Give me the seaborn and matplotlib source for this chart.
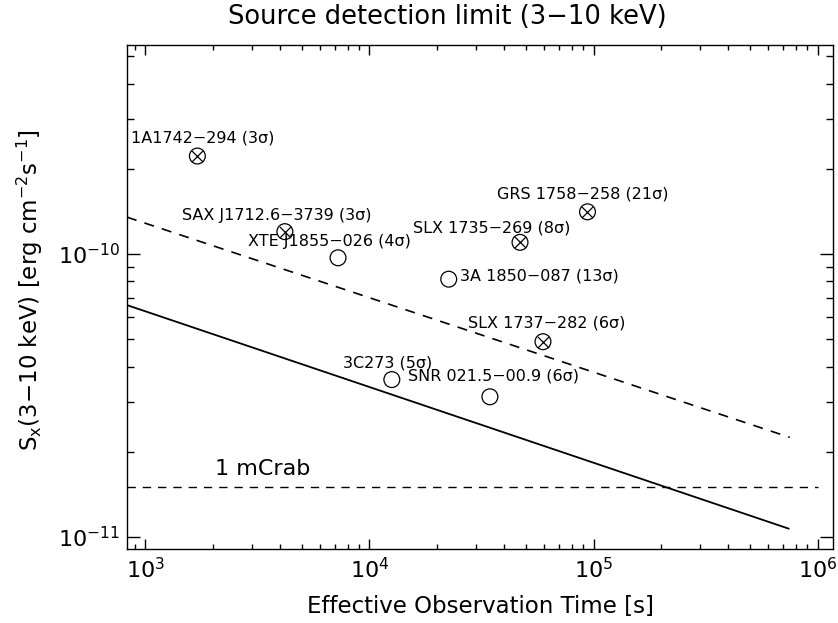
import numpy as np
import pandas as pd
import matplotlib
matplotlib.use("Agg")
import matplotlib.pyplot as plt
from matplotlib.ticker import NullFormatter
import seaborn as sns

# ---------------- data ----------------
src_names = ["1A1742\u2212294", "SAX J1712.6\u22123739", "XTE J1855\u2212026",
             "3A 1850\u2212087", "GRS 1758\u2212258", "SLX 1735\u2212269",
             "SLX 1737\u2212282", "3C273", "SNR 021.5\u221200.9"]
src_sigma = [3, 3, 4, 13, 21, 8, 6, 5, 6]
src_time = [1.71e3, 4.2e3, 7.25e3, 2.26e4, 9.4e4, 4.7e4, 5.95e4, 1.26e4, 3.45e4]
src_flux = [2.22e-10, 1.20e-10, 9.7e-11, 8.15e-11, 1.41e-10, 1.10e-10,
            4.9e-11, 3.6e-11, 3.13e-11]
src_kind = ["cross", "cross", "open", "open", "cross", "cross", "cross", "open", "open"]

dashed_time = [830, 7.5e5]
dashed_flux = [1.35e-10, 2.25e-11]
solid_time = [830, 7.43e5]
solid_flux = [6.6e-11, 1.07e-11]
mcrab_time = [830, 1.0e6]
mcrab_flux = [1.5e-11, 1.5e-11]

x_ticks = [1e3, 1e4, 1e5, 1e6]
y_ticks = [1e-11, 1e-10]

# label offsets in pixels (dx right, dy up) relative to the marker
label_dx = [-66, -103, -90, 11, -90, -107, -75, -49, -82]
label_dy = [18, 16, 16, 3, 18, 14, 19, 17, 21]

# ---------------- figure ----------------
sns.set_theme(style="ticks")
plt.rcParams["font.family"] = ["DejaVu Sans"]
plt.rcParams["mathtext.fontset"] = "dejavusans"
for k in ["text.color", "axes.labelcolor", "xtick.color", "ytick.color", "axes.edgecolor"]:
    plt.rcParams[k] = "black"

W, H = 838, 623
fig = plt.figure(figsize=(W / 100, H / 100), dpi=100)
ax = fig.add_axes([127 / W, 1 - 549 / H, (833 - 127) / W, (549 - 45) / H])

df_src = pd.DataFrame({"time": src_time, "flux": src_flux, "kind": src_kind,
                       "name": src_names, "sigma": src_sigma})

sns.lineplot(x=dashed_time, y=dashed_flux, ax=ax, color="black", lw=1.2,
             linestyle="--", sort=False, estimator=None)
ax.lines[-1].set_dashes((6, 5))
sns.lineplot(x=solid_time, y=solid_flux, ax=ax, color="black", lw=1.3,
             sort=False, estimator=None)
sns.lineplot(x=mcrab_time, y=mcrab_flux, ax=ax, color="black", lw=1.0,
             linestyle="--", sort=False, estimator=None)
ax.lines[-1].set_dashes((6, 5))

sns.scatterplot(data=df_src, x="time", y="flux", ax=ax, marker="o", s=130,
                facecolor="none", edgecolor="black", linewidth=0.9, zorder=3)
sns.scatterplot(data=df_src[df_src["kind"] == "cross"], x="time", y="flux", ax=ax,
                marker="x", s=64, color="black", linewidth=0.9, zorder=3)

for i, (n, sg, t, f) in enumerate(zip(src_names, src_sigma, src_time, src_flux)):
    ax.annotate(f"{n} ({sg}\u03c3)", xy=(t, f),
                xytext=(label_dx[i] * 0.72, label_dy[i] * 0.72),
                textcoords="offset points", ha="left", va="center",
                fontsize=11.5, color="black")

ax.annotate("1 mCrab", xy=(mcrab_time[0], mcrab_flux[0]),
            xytext=((215 - 127) * 0.72, 18 * 0.72), textcoords="offset points",
            ha="left", va="center", fontsize=16, color="black")

ax.set_xscale("log")
ax.set_yscale("log")
ax.set_xlim(830, 1.17e6)
ax.set_ylim(9.07e-12, 5.48e-10)
ax.set_xticks(x_ticks)
ax.set_yticks(y_ticks)
ax.xaxis.set_minor_formatter(NullFormatter())
ax.yaxis.set_minor_formatter(NullFormatter())
ax.set_xlabel("")
ax.set_ylabel("")

ax.tick_params(which="both", direction="in", top=True, right=True,
               color="black", width=1.0)
ax.tick_params(axis="x", which="major", length=7.2, labelsize=16, pad=6)
ax.tick_params(axis="x", which="minor", length=3.6)
ax.tick_params(axis="y", which="major", length=9.4, labelsize=16, pad=5)
ax.tick_params(axis="y", which="minor", length=5)
for sp in ax.spines.values():
    sp.set_visible(True)
    sp.set_color("black")
    sp.set_linewidth(1.0)

fig.text(447.5 / W, 1 - 17 / H, "Source detection limit (3\u221210 keV)",
         ha="center", va="center", fontsize=18.5)
fig.text(480 / W, 1 - 613 / H, "Effective Observation Time [s]",
         ha="center", va="baseline", fontsize=16.5)
fig.text(30 / W, 1 - 290 / H,
         r"S$_\mathrm{x}$(3$-$10 keV) [erg cm$^{-2}$s$^{-1}$]",
         ha="center", va="center", rotation=90, fontsize=16.5)

fig.savefig("out.png", dpi=100)
